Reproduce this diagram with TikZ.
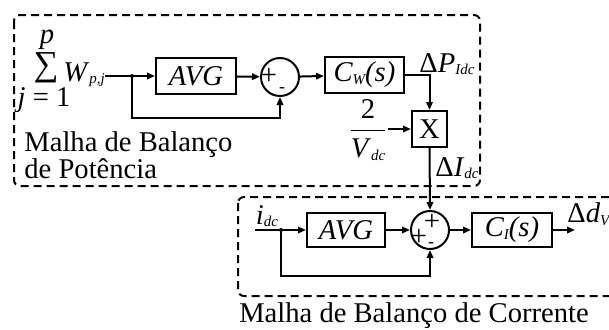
\documentclass[tikz,border=0pt]{standalone}
\usepackage{fontspec}
\setmainfont{Liberation Serif}
\usetikzlibrary{shapes,arrows.meta,positioning}
\tikzstyle{block} = [rectangle, draw, line width=1pt, minimum width=40pt, minimum height=18pt, inner sep=0pt, font=\fontsize{14.3}{16}\selectfont\itshape]
\tikzstyle{sumnode} = [circle, draw, line width=1pt, minimum size=19pt, inner sep=0pt]
\tikzstyle{arrow} = [-{Triangle[length=4pt,width=3.2pt]}, line width=1pt]
\tikzstyle{loopbox} = [draw, line width=1pt, dash pattern=on 4pt off 2.5pt, rounded corners=3pt]
\tikzstyle{lbl} = [inner sep=0pt, font=\fontsize{14.3}{16}\selectfont]
\newcommand{\sub}[1]{{\fontsize{7.5}{8}\selectfont\raisebox{-0.35ex}{\textit{#1}}}}

\begin{document}
\begin{tikzpicture}[x=0.5pt, y=-0.5pt]
\clip (0,0) rectangle (609,329);
% malhas
\draw[loopbox] (14,15) rectangle (480,186);
\draw[loopbox] (238,197) rectangle (650,296);

% malha de potencia
\node[lbl, anchor=base, font=\fontsize{17.5}{17.5}\selectfont] (sigma) at (46,75) {∑};
\node[lbl] (plim) at (47,40) {\textit{p}};
\node[lbl] (jlim) at (44,100) {\textit{j} = 1};
\node[lbl, anchor=west] (wsum) at (63,75) {\textit{W}\sub{p,j}};
\coordinate (win) at (105,76);
\coordinate (dotA) at (132,76);
\node[block] (avgA) at (196,76) {AVG};
\node[sumnode] (sumA) at (280,77) {};
\node[lbl] (plusA) at (269,76) {+};
\node[lbl, font=\fontsize{9}{9}\selectfont] (minusA) at (282,90) {-};
\node[block, minimum width=39.5pt] (cw) at (364.5,75) {\textit{C}\sub{W}(\textit{s})};
\node[block, minimum width=17.5pt, font=\fontsize{14.3}{16}\selectfont] (mult) at (429.5,129) {X};
\node[lbl, anchor=west] (dpidc) at (419,64) {Δ\textit{P}\sub{Idc}};
\node[lbl] (frac) at (368,130) {$\displaystyle\frac{\mbox{2}}{\mbox{\textit{V}\sub{dc}}}$};
\node[lbl, anchor=west] (didc) at (435,168) {Δ\textit{I}\sub{dc}};
\node[lbl, anchor=north west, align=left, font=\fontsize{14.3}{13.5}\selectfont] (malhaP) at (24,131) {Malha de Balanço\\de Potência};

\fill (dotA) circle (1pt);
\draw[arrow] (win) -- (avgA);
\draw[arrow] (dotA) -- ++(0,42) -| (sumA.south);
\draw[arrow] (avgA) -- (sumA);
\draw[arrow] (sumA) -- (cw);
\draw[arrow] (cw.east) -| (mult.north);
\draw[arrow] (frac.east |- mult.west) -- (mult.west);

% malha de corrente
\node[lbl] (idc) at (267,216) {\textit{i}\sub{dc}};
\coordinate (idcin) at (255,230);
\coordinate (dotB) at (281,230);
\node[block, minimum width=39pt, minimum height=17pt] (avgB) at (346,230) {AVG};
\node[sumnode] (sumB) at (430,230) {};
\node[lbl] (plusB1) at (432,222) {+};
\node[lbl] (plusB2) at (419,237) {+};
\node[lbl, font=\fontsize{9}{9}\selectfont] (minusB) at (431,245) {-};
\node[block, minimum width=40pt, minimum height=17pt] (ci) at (512,230) {\textit{C}\sub{I}(\textit{s})};
\coordinate (dout) at (575,230);
\node[lbl, anchor=west] (ddv) at (567,214) {Δ\textit{d}\sub{V}};
\node[lbl] (malhaC) at (414,316) {Malha de Balanço de Corrente};

\fill (dotB) circle (1pt);
\draw[arrow] (mult.south) -- (sumB.north);
\draw[arrow] (idcin) -- (avgB);
\draw[arrow] (dotB) -- ++(0,46) -| (sumB.south);
\draw[arrow] (avgB) -- (sumB);
\draw[arrow] (sumB) -- (ci);
\draw[arrow] (ci) -- (dout);
\end{tikzpicture}
\end{document}
